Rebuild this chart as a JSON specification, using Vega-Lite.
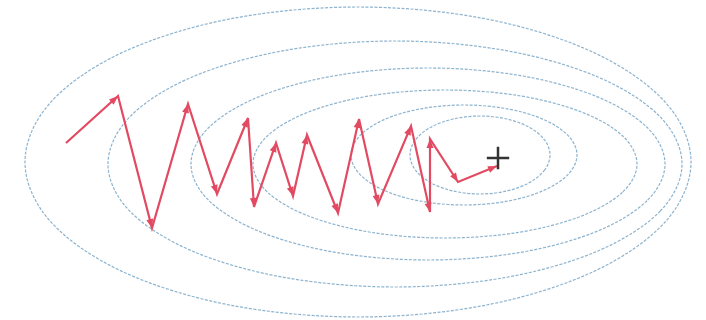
{
  "$schema": "https://vega.github.io/schema/vega-lite/v6.json",
  "width": 706,
  "height": 320,
  "padding": 0,
  "autosize": {"type": "fit", "contains": "padding"},
  "background": "white",
  "config": {"view": {"stroke": null}},
  "datasets": {
    "ell": [
      {"e": 1, "i": 0, "x": 691, "y": 162}, {"e": 1, "i": 1, "x": 665.7, "y": 221.3}, {"e": 1, "i": 2, "x": 593.5, "y": 271.6}, {"e": 1, "i": 3, "x": 485.4, "y": 305.2},
      {"e": 1, "i": 4, "x": 358, "y": 317}, {"e": 1, "i": 5, "x": 230.6, "y": 305.2}, {"e": 1, "i": 6, "x": 122.5, "y": 271.6}, {"e": 1, "i": 7, "x": 50.3, "y": 221.3},
      {"e": 1, "i": 8, "x": 25, "y": 162}, {"e": 1, "i": 9, "x": 50.3, "y": 102.7}, {"e": 1, "i": 10, "x": 122.5, "y": 52.4}, {"e": 1, "i": 11, "x": 230.6, "y": 18.8},
      {"e": 1, "i": 12, "x": 358, "y": 7}, {"e": 1, "i": 13, "x": 485.4, "y": 18.8}, {"e": 1, "i": 14, "x": 593.5, "y": 52.4}, {"e": 1, "i": 15, "x": 665.7, "y": 102.7},

      {"e": 2, "i": 0, "x": 682, "y": 164}, {"e": 2, "i": 1, "x": 660.2, "y": 211.1}, {"e": 2, "i": 2, "x": 597.9, "y": 251}, {"e": 2, "i": 3, "x": 504.8, "y": 277.6},
      {"e": 2, "i": 4, "x": 395, "y": 287}, {"e": 2, "i": 5, "x": 285.2, "y": 277.6}, {"e": 2, "i": 6, "x": 192.1, "y": 251}, {"e": 2, "i": 7, "x": 129.8, "y": 211.1},
      {"e": 2, "i": 8, "x": 108, "y": 164}, {"e": 2, "i": 9, "x": 129.8, "y": 116.9}, {"e": 2, "i": 10, "x": 192.1, "y": 77}, {"e": 2, "i": 11, "x": 285.2, "y": 50.4},
      {"e": 2, "i": 12, "x": 395, "y": 41}, {"e": 2, "i": 13, "x": 504.8, "y": 50.4}, {"e": 2, "i": 14, "x": 597.9, "y": 77}, {"e": 2, "i": 15, "x": 660.2, "y": 116.9},

      {"e": 3, "i": 0, "x": 665, "y": 164}, {"e": 3, "i": 1, "x": 647, "y": 200.7}, {"e": 3, "i": 2, "x": 595.6, "y": 231.9}, {"e": 3, "i": 3, "x": 518.7, "y": 252.7},
      {"e": 3, "i": 4, "x": 428, "y": 260}, {"e": 3, "i": 5, "x": 337.3, "y": 252.7}, {"e": 3, "i": 6, "x": 260.4, "y": 231.9}, {"e": 3, "i": 7, "x": 209, "y": 200.7},
      {"e": 3, "i": 8, "x": 191, "y": 164}, {"e": 3, "i": 9, "x": 209, "y": 127.3}, {"e": 3, "i": 10, "x": 260.4, "y": 96.1}, {"e": 3, "i": 11, "x": 337.3, "y": 75.3},
      {"e": 3, "i": 12, "x": 428, "y": 68}, {"e": 3, "i": 13, "x": 518.7, "y": 75.3}, {"e": 3, "i": 14, "x": 595.6, "y": 96.1}, {"e": 3, "i": 15, "x": 647, "y": 127.3},

      {"e": 4, "i": 0, "x": 637, "y": 164}, {"e": 4, "i": 1, "x": 622.4, "y": 192.3}, {"e": 4, "i": 2, "x": 580.8, "y": 216.3}, {"e": 4, "i": 3, "x": 518.5, "y": 232.4},
      {"e": 4, "i": 4, "x": 445, "y": 238}, {"e": 4, "i": 5, "x": 371.5, "y": 232.4}, {"e": 4, "i": 6, "x": 309.2, "y": 216.3}, {"e": 4, "i": 7, "x": 267.6, "y": 192.3},
      {"e": 4, "i": 8, "x": 253, "y": 164}, {"e": 4, "i": 9, "x": 267.6, "y": 135.7}, {"e": 4, "i": 10, "x": 309.2, "y": 111.7}, {"e": 4, "i": 11, "x": 371.5, "y": 95.6},
      {"e": 4, "i": 12, "x": 445, "y": 90}, {"e": 4, "i": 13, "x": 518.5, "y": 95.6}, {"e": 4, "i": 14, "x": 580.8, "y": 111.7}, {"e": 4, "i": 15, "x": 622.4, "y": 135.7},

      {"e": 5, "i": 0, "x": 577, "y": 155}, {"e": 5, "i": 1, "x": 568.4, "y": 174.1}, {"e": 5, "i": 2, "x": 543.9, "y": 190.4}, {"e": 5, "i": 3, "x": 507.2, "y": 201.2},
      {"e": 5, "i": 4, "x": 464, "y": 205}, {"e": 5, "i": 5, "x": 420.8, "y": 201.2}, {"e": 5, "i": 6, "x": 384.1, "y": 190.4}, {"e": 5, "i": 7, "x": 359.6, "y": 174.1},
      {"e": 5, "i": 8, "x": 351, "y": 155}, {"e": 5, "i": 9, "x": 359.6, "y": 135.9}, {"e": 5, "i": 10, "x": 384.1, "y": 119.6}, {"e": 5, "i": 11, "x": 420.8, "y": 108.8},
      {"e": 5, "i": 12, "x": 464, "y": 105}, {"e": 5, "i": 13, "x": 507.2, "y": 108.8}, {"e": 5, "i": 14, "x": 543.9, "y": 119.6}, {"e": 5, "i": 15, "x": 568.4, "y": 135.9},

      {"e": 6, "i": 0, "x": 550, "y": 155}, {"e": 6, "i": 1, "x": 544.7, "y": 169.9}, {"e": 6, "i": 2, "x": 529.5, "y": 182.6}, {"e": 6, "i": 3, "x": 506.8, "y": 191},
      {"e": 6, "i": 4, "x": 480, "y": 194}, {"e": 6, "i": 5, "x": 453.2, "y": 191}, {"e": 6, "i": 6, "x": 430.5, "y": 182.6}, {"e": 6, "i": 7, "x": 415.3, "y": 169.9},
      {"e": 6, "i": 8, "x": 410, "y": 155}, {"e": 6, "i": 9, "x": 415.3, "y": 140.1}, {"e": 6, "i": 10, "x": 430.5, "y": 127.4}, {"e": 6, "i": 11, "x": 453.2, "y": 119},
      {"e": 6, "i": 12, "x": 480, "y": 116}, {"e": 6, "i": 13, "x": 506.8, "y": 119}, {"e": 6, "i": 14, "x": 529.5, "y": 127.4}, {"e": 6, "i": 15, "x": 544.7, "y": 140.1}
    ],
    "path": [
      {"i": 0, "x": 66, "y": 143, "dir": null},
      {"i": 1, "x": 118, "y": 96, "dir": 47.9},
      {"i": 2, "x": 152, "y": 228, "dir": 165.6},
      {"i": 3, "x": 188, "y": 104, "dir": 16.2},
      {"i": 4, "x": 217, "y": 194, "dir": 162.1},
      {"i": 5, "x": 248, "y": 118, "dir": 22.2},
      {"i": 6, "x": 254, "y": 207, "dir": 176.1},
      {"i": 7, "x": 276, "y": 143, "dir": 19.0},
      {"i": 8, "x": 293, "y": 196, "dir": 162.2},
      {"i": 9, "x": 307, "y": 135, "dir": 12.9},
      {"i": 10, "x": 338, "y": 213, "dir": 158.3},
      {"i": 11, "x": 359, "y": 119, "dir": 12.6},
      {"i": 12, "x": 378, "y": 204, "dir": 167.4},
      {"i": 13, "x": 411, "y": 126, "dir": 22.9},
      {"i": 14, "x": 430, "y": 212, "dir": 167.5},
      {"i": 15, "x": 430, "y": 139, "dir": 0},
      {"i": 16, "x": 458, "y": 182, "dir": 146.9},
      {"i": 17, "x": 497, "y": 166, "dir": 67.7}
    ],
    "goal": [{"x": 498, "y": 158}]
  },
  "layer": [
    {
      "data": {"name": "ell"},
      "mark": {"type": "line", "interpolate": "cardinal-closed", "color": "#86afcc", "strokeWidth": 1.2, "strokeDash": [3, 1.5], "opacity": 0.95},
      "encoding": {
        "x": {"field": "x", "type": "quantitative", "scale": {"domain": [0, 706], "nice": false, "zero": false}, "axis": null},
        "y": {"field": "y", "type": "quantitative", "scale": {"domain": [0, 320], "nice": false, "zero": false, "reverse": true}, "axis": null},
        "detail": {"field": "e", "type": "nominal"},
        "order": {"field": "i", "type": "quantitative"}
      }
    },
    {
      "data": {"name": "path"},
      "mark": {"type": "line", "color": "#e24a62", "strokeWidth": 2.2},
      "encoding": {
        "x": {"field": "x", "type": "quantitative"},
        "y": {"field": "y", "type": "quantitative"},
        "order": {"field": "i", "type": "quantitative"}
      }
    },
    {
      "data": {"name": "path"},
      "transform": [{"filter": "datum.dir != null"}],
      "mark": {"type": "point", "shape": "M0,0L-0.7,1.8L0.7,1.8Z", "filled": true, "color": "#e24a62", "size": 100, "opacity": 1},
      "encoding": {
        "x": {"field": "x", "type": "quantitative"},
        "y": {"field": "y", "type": "quantitative"},
        "angle": {"field": "dir", "type": "quantitative", "scale": null}
      }
    },
    {
      "data": {"name": "goal"},
      "mark": {"type": "point", "shape": "M-1,0L1,0M0,-1L0,1", "filled": false, "color": "#333333", "strokeWidth": 2.5, "size": 500, "opacity": 1},
      "encoding": {
        "x": {"field": "x", "type": "quantitative"},
        "y": {"field": "y", "type": "quantitative"}
      }
    }
  ]
}
